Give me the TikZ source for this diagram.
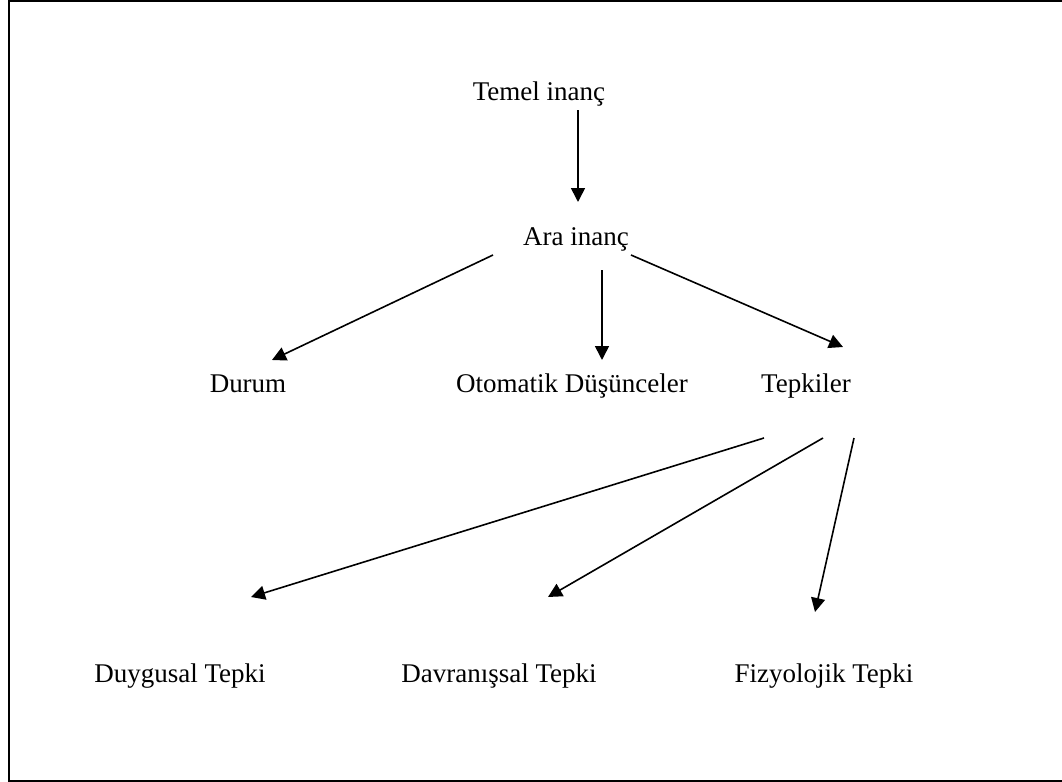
\documentclass[tikz,border=0pt]{standalone}
\usepackage{fontspec}
\setmainfont{Liberation Serif}
\usetikzlibrary{arrows.meta}

\begin{document}
\begin{tikzpicture}[x=0.5pt, y=-0.5pt,
    lbl/.style={font=\fontsize{13.5}{16}\selectfont, anchor=base, inner sep=0pt},
    arr/.style={-{Triangle[length=7pt, width=7pt]}, line width=0.8pt}]
\useasboundingbox (0,0) rectangle (1062,782);

% Frame (right side runs off the page)
\draw[line width=1.25pt] (1080,1.2) -- (9.2,1.2) -- (9.2,780.8) -- (1080,780.8);

% Top levels
\node[lbl] (temel) at (539,100) {Temel inanç};
\node[lbl] (ara) at (576,245) {Ara inanç};

% Middle row
\foreach \x/\name/\txt in {248/durum/Durum, 572/otomatik/Otomatik Düşünceler, 806/tepkiler/Tepkiler} {
    \node[lbl] (\name) at (\x,392) {\txt};
}

% Bottom row
\foreach \x/\name/\txt in {180/duygusal/Duygusal Tepki, 499/davranis/Davranışsal Tepki, 824/fizyolojik/Fizyolojik Tepki} {
    \node[lbl] (\name) at (\x,682) {\txt};
}

% Arrow ends
\coordinate (temel-out) at (578,110);
\coordinate (ara-in) at (578,202);
\coordinate (ara-l) at (493,255);
\coordinate (ara-m) at (602,270);
\coordinate (ara-r) at (631,255);
\coordinate (durum-in) at (272,360);
\coordinate (otomatik-in) at (602,360);
\coordinate (tepkiler-in) at (843,347);
\coordinate (tepkiler-l) at (764,438);
\coordinate (tepkiler-m) at (823,438);
\coordinate (tepkiler-r) at (854,438);
\coordinate (duygusal-in) at (251,597);
\coordinate (davranis-in) at (548,597);
\coordinate (fizyolojik-in) at (815,612);

% Arrows
\draw[arr] (temel-out) -- (ara-in);
\foreach \a/\b in {ara-l/durum-in, ara-m/otomatik-in, ara-r/tepkiler-in,
    tepkiler-l/duygusal-in, tepkiler-m/davranis-in, tepkiler-r/fizyolojik-in} {
    \draw[arr] (\a) -- (\b);
}
\end{tikzpicture}
\end{document}
